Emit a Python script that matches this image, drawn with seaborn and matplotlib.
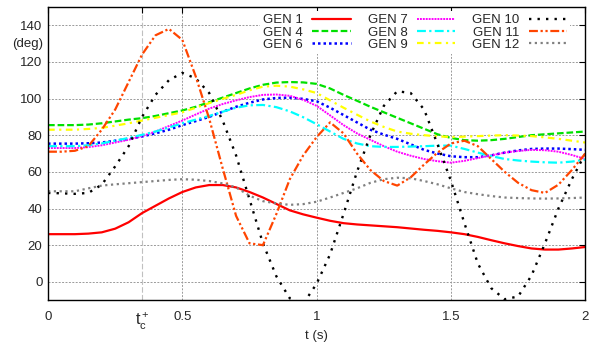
import numpy as np
import pandas as pd
import matplotlib
matplotlib.use("Agg")
import matplotlib.pyplot as plt
import seaborn as sns

# ---- data -------------------------------------------------------------
t = [0.0, 0.05, 0.1, 0.15, 0.2, 0.25, 0.3, 0.35, 0.4, 0.45, 0.5,
     0.55, 0.6, 0.65, 0.7, 0.75, 0.8, 0.85, 0.9, 0.95, 1.0,
     1.05, 1.1, 1.15, 1.2, 1.25, 1.3, 1.35, 1.4, 1.45, 1.5,
     1.55, 1.6, 1.65, 1.7, 1.75, 1.8, 1.85, 1.9, 1.95, 2.0]

gen1 = [26, 26, 26, 26.3, 27, 29, 32.5, 37.5, 41.5, 45.5, 49,
        51.5, 52.8, 52.8, 51.5, 49, 46, 42.5, 39, 36.8, 35,
        33.3, 32, 31.3, 30.8, 30.3, 29.8, 29.1, 28.4, 27.8, 27,
        26, 24.5, 22.7, 21, 19.5, 18.2, 17.6, 17.6, 18.2, 19]
gen4 = [85.5, 85.5, 85.5, 85.8, 86.5, 87.5, 88.5, 89.3, 90.5, 92, 93.5,
        95.5, 98, 100.5, 103, 105.5, 107.5, 108.7, 109, 108.8, 108,
        105.5, 102, 98.8, 95.5, 92.5, 89.5, 86.5, 83.5, 80.5, 78.5,
        77.3, 77, 77.3, 78, 79, 80, 80.5, 81, 81.5, 82]
gen6 = [75.4, 75.4, 75.4, 75.6, 76, 77, 78, 79.3, 81, 83, 85.5,
        87.7, 90, 92.8, 95.5, 97.7, 99.5, 100.3, 100.5, 99.8, 98.5,
        95, 91, 87, 83, 80.3, 78, 75, 72, 70, 68.5,
        68, 68, 69, 70.5, 71.7, 72.5, 72.7, 72.7, 72.4, 72]
gen7 = [73, 73, 73, 73.5, 74.5, 76, 77.5, 79.5, 82, 85, 88,
        91.3, 94.5, 97, 99, 100.8, 102, 102.2, 101.5, 99.3, 96,
        90.8, 85.5, 81, 77.5, 74, 71, 68.8, 67, 65.8, 65,
        66, 67.5, 69, 70.5, 71.4, 72, 71.8, 71, 69.2, 67]
gen8 = [74, 74, 74, 74.5, 75.5, 77, 78.5, 80.2, 82, 84.2, 86.5,
        88.5, 90.5, 92.8, 95, 96.3, 96.5, 95.3, 93, 89.8, 86,
        82, 78, 75.5, 74, 73.6, 73.6, 73.8, 74, 74.3, 74.3,
        72.5, 70.5, 68.6, 67, 66.2, 65.6, 65.2, 65, 65.6, 66.7]
gen9 = [83, 83, 83, 83.4, 84, 85.2, 86.5, 88, 89.5, 91, 92.5,
        95, 97.5, 99.8, 102, 104.5, 106.5, 107, 106.5, 105, 103,
        99, 95, 91.2, 87.5, 84.5, 82, 80.8, 80, 79.4, 79,
        79.2, 79.5, 79.8, 80, 79.8, 79.5, 78.8, 78, 77, 76]
gen10 = [48.5, 48.3, 48, 48.5, 53, 63, 74, 90, 102, 110, 114,
         111, 103, 88, 69, 45, 21, 3, -9, -12, -1,
         15, 37, 60, 80, 96, 104, 103, 94, 75, 55,
         32, 10, -3.5, -9.5, -8, 3.5, 21, 40, 56, 70]
gen11 = [71, 71, 71.5, 74, 83, 94, 109, 124, 134.5, 138, 132,
         112, 89, 62, 36, 21, 20, 37, 56, 69, 79,
         87, 81, 70, 61, 55, 52.5, 57, 64, 70.5, 75.5,
         77, 74, 67, 60, 54, 50, 48.5, 53, 61, 70]
gen12 = [49.4, 49.4, 49.4, 51, 52.5, 53.2, 53.8, 54.4, 55, 55.6, 56,
         55.7, 55, 53.7, 51.5, 47, 44, 42.8, 42, 42.4, 43.7,
         46, 48.5, 51, 54, 56, 56.8, 56.5, 55, 53.2, 51,
         49, 47.8, 46.8, 46, 45.7, 45.5, 45.4, 45.5, 45.7, 46]

series_names = ["GEN 1", "GEN 4", "GEN 6", "GEN 7", "GEN 8", "GEN 9",
                "GEN 10", "GEN 11", "GEN 12"]
x_ticks = [0, 0.35, 0.5, 1, 1.5, 2]
x_ticklabels = ["0", r"$\mathregular{t_c^+}$", "0.5", "1", "1.5", "2"]
y_ticks = [0, 20, 40, 60, 80, 100, 120, 140]

# ---- style -------------------------------------------------------------
sns.set_theme(style="white")
plt.rcParams["font.family"] = ["Liberation Sans", "DejaVu Sans"]
plt.rcParams["mathtext.fontset"] = "custom"
plt.rcParams["mathtext.rm"] = "Liberation Sans"
plt.rcParams["mathtext.it"] = "Liberation Sans"

styles = [
    ("#ff0000", "-", 1.6),
    ("#00e000", (0, (3, 1.3)), 1.6),
    ("#0000ff", (0, (1, 1.2)), 1.8),
    ("#ff00ff", (0, (1, 0.5)), 1.4),
    ("#00ffff", (0, (4, 1.5, 1, 1.5)), 1.6),
    ("#ffff00", (0, (3, 2, 1, 2)), 1.6),
    ("#000000", (0, (1, 2.6)), 1.7),
    ("#ff4500", (0, (4, 1.2, 1, 1.2, 1, 1.2)), 1.6),
    ("#808080", (0, (1, 1.6)), 1.6),
]
values = [gen1, gen4, gen6, gen7, gen8, gen9, gen10, gen11, gen12]

fig = plt.figure(figsize=(5.93, 3.45), dpi=100)
ax = fig.add_axes([0.081, 0.13, 0.906, 0.85])

for name, vals, (col, ls, lw) in zip(series_names, values, styles):
    df = pd.DataFrame({"t": t, "v": vals})
    sns.lineplot(data=df, x="t", y="v", ax=ax, color=col, linestyle=ls,
                 linewidth=lw, label=name, estimator=None, sort=False)

ax.set_xlim(0, 2)
ax.set_ylim(-10, 150)
ax.set_xticks(x_ticks)
ax.set_xticklabels(x_ticklabels)
ax.set_yticks(y_ticks)
ax.set_xlabel("t (s)", fontsize=9.5, labelpad=-2)
ax.set_ylabel("")
ax.tick_params(direction="in", top=True, right=True, length=4,
               labelsize=9.5, width=0.8, color="black", pad=8)
ax.tick_params(axis="y", pad=4)
ax.get_xticklabels()[1].set_fontsize(11.5)
ax.text(-0.009, 0.874, "(deg)", transform=ax.transAxes, ha="right",
        va="center", fontsize=9.5)

# grid like gnuplot
for yv in y_ticks:
    ax.axhline(yv, color="#9a9a9a", linestyle=(0, (2, 1.5)), linewidth=0.7, zorder=0)
for xv in [0.5, 1, 1.5]:
    ax.axvline(xv, color="#9a9a9a", linestyle=(0, (2, 1.5)), linewidth=0.7, zorder=0)
ax.axvline(0.35, color="#c0c0c0", linestyle=(0, (5, 2)), linewidth=0.8, zorder=0)

for sp in ax.spines.values():
    sp.set_color("black")
    sp.set_linewidth(1.0)

leg = ax.legend(loc="upper right", bbox_to_anchor=(0.9795, 1.0), ncol=3,
                frameon=True, framealpha=1, edgecolor="white", fontsize=9.5,
                markerfirst=False, handlelength=2.9, columnspacing=1.3,
                labelspacing=0.0, handletextpad=0.7, borderpad=0.25,
                borderaxespad=0.3, fancybox=False)
leg.get_frame().set_linewidth(0)

fig.savefig("out.png", dpi=100)
